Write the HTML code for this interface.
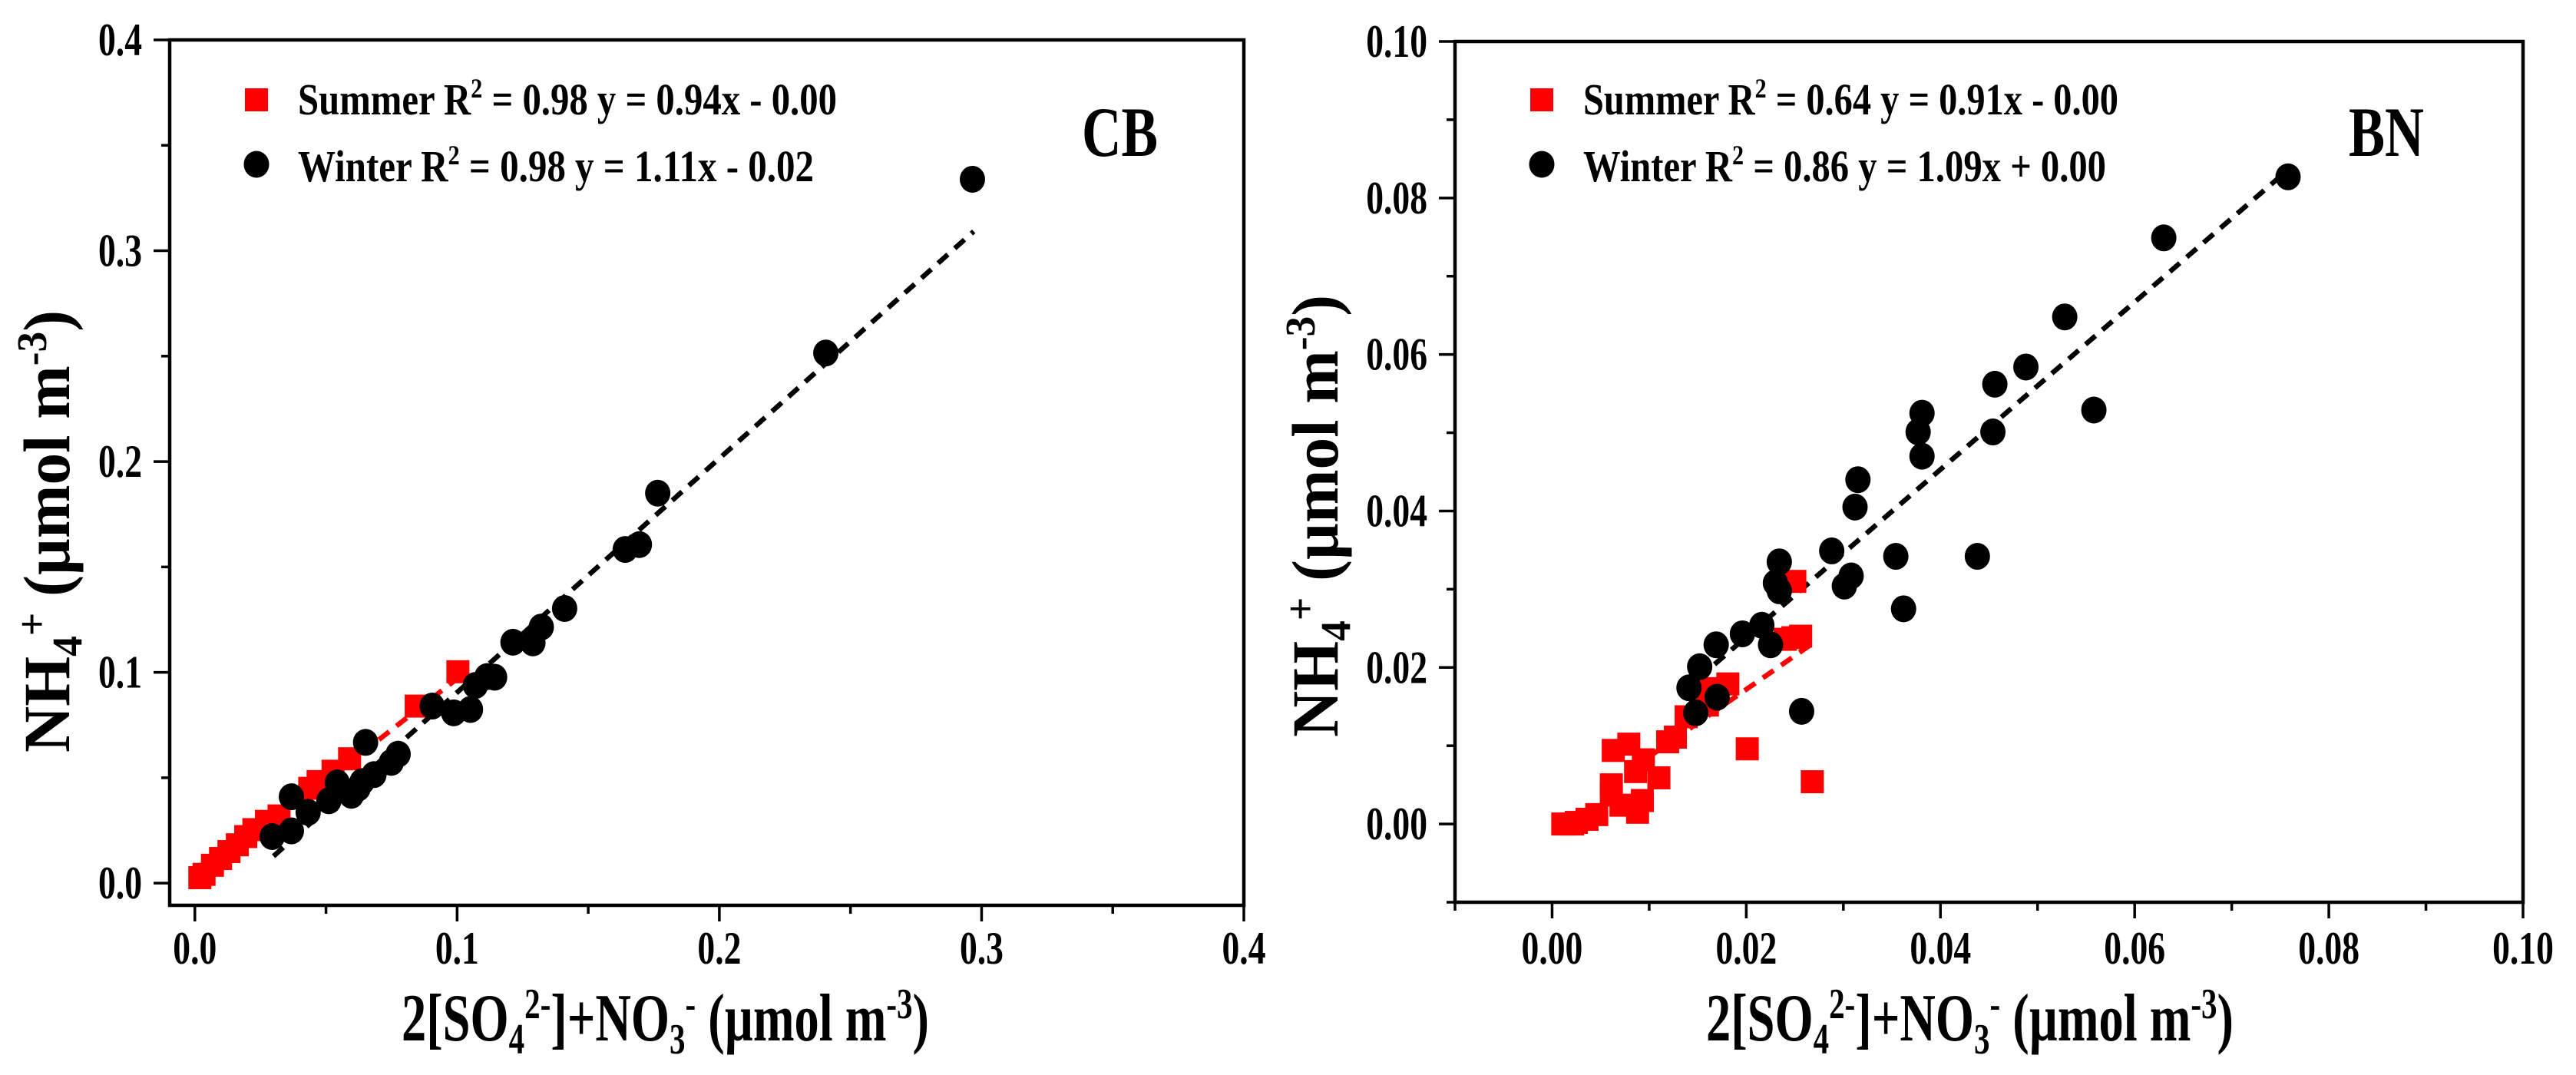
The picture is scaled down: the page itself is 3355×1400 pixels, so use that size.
<!DOCTYPE html>
<html><head><meta charset="utf-8"><style>
html,body{margin:0;padding:0;background:#fff;}
svg{display:block;font-family:"Liberation Serif",serif;font-weight:bold;}
</style></head><body>
<svg id="fig" width="3355" height="1400" viewBox="0 0 3355 1400" xmlns="http://www.w3.org/2000/svg"></svg>
<script>
// ---- CB panel data ----
const cbWinterX = [0.2965,0.2406,0.1765,0.1695,0.1641,0.1410,0.1321,0.1289,0.1213,0.1143,0.1114,0.1070,0.1051,0.0987,0.0905,0.0775,0.0749,0.0683,0.0651,0.0638,0.0597,0.0543,0.0511,0.0432,0.0368,0.0368,0.0295,0.0622];
const cbWinterY = [0.3339,0.2515,0.1850,0.1606,0.1583,0.1303,0.1215,0.1140,0.1143,0.0977,0.0980,0.0938,0.0824,0.0808,0.0840,0.0612,0.0573,0.0515,0.0668,0.0482,0.0417,0.0476,0.0391,0.0336,0.0410,0.0248,0.0221,0.0450];
const cbSummerX = [0.1003,0.0844,0.0590,0.0527,0.0470,0.0438,0.0321,0.0273,0.0225,0.0194,0.0162,0.0130,0.0098,0.0067,0.0035,0.0019];
const cbSummerY = [0.1003,0.0840,0.0590,0.0531,0.0482,0.0450,0.0319,0.0293,0.0254,0.0221,0.0182,0.0150,0.0117,0.0085,0.0042,0.0026];
const cbFitWinter = [1.11, -0.0205, 0.030, 0.297];
const cbFitSummer = [0.97, 0.0, 0.030, 0.100];
const cbTicks = [0.0,0.1,0.2,0.3,0.4];
const cbTickLabels = ["0.0","0.1","0.2","0.3","0.4"];
// ---- BN panel data ----
const bnWinterX = [0.0758,0.0630,0.0528,0.0488,0.0456,0.0454,0.0558,0.0381,0.0377,0.0381,0.0315,0.0312,0.0288,0.0308,0.0301,0.0354,0.0438,0.0362,0.0234,0.0230,0.0234,0.0216,0.0196,0.0225,0.0169,0.0152,0.0141,0.0170,0.0148,0.0257];
const bnWinterY = [0.0827,0.0749,0.0648,0.0584,0.0562,0.0501,0.0529,0.0525,0.0501,0.0470,0.0440,0.0405,0.0349,0.0317,0.0304,0.0342,0.0342,0.0275,0.0335,0.0308,0.0298,0.0254,0.0243,0.0229,0.0229,0.0201,0.0174,0.0162,0.0142,0.0144];
const bnSummerX = [0.0250,0.0248,0.0256,0.0240,0.0268,0.0201,0.0181,0.0160,0.0160,0.0138,0.0127,0.0119,0.0110,0.0094,0.0079,0.0063,0.0086,0.0061,0.0061,0.0093,0.0071,0.0088,0.0046,0.0036,0.0025,0.0011,0.0021];
const bnSummerY = [0.0310,0.0238,0.0240,0.0236,0.0054,0.0096,0.0179,0.0173,0.0152,0.0137,0.0111,0.0105,0.0059,0.0082,0.0102,0.0094,0.0067,0.0050,0.0037,0.0030,0.0024,0.0015,0.0012,0.0006,0.0002,0.0000,0.0000];
const bnFitWinter = [1.07, 0.0025, 0.015, 0.0758];
const bnFitSummer = [0.86, 0.0, 0.0104, 0.0267];
const bnTicks = [0.00,0.02,0.04,0.06,0.08,0.10];
const bnTickLabels = ["0.00","0.02","0.04","0.06","0.08","0.10"];

const NS="http://www.w3.org/2000/svg";
const svg=document.getElementById('fig');
function mk(tag,attrs,parent){const e=document.createElementNS(NS,tag);for(const k in attrs)e.setAttribute(k,attrs[k]);(parent||svg).appendChild(e);return e;}
const TF=60;
function tickLen(s){let n=0;for(const ch of s)n+=(ch==='.'?0.25:0.5);return n*TF*0.76;}

function panel(P){
  const g=mk('g',{});
  
  
  const sx=v=>P.x0+(v-P.xmin)/(P.xmax-P.xmin)*(P.x1-P.x0);
  const sy=v=>P.y1-(v-P.ymin)/(P.ymax-P.ymin)*(P.y1-P.y0);
  const fr=mk('rect',{x:P.x0,y:P.y0,width:P.x1-P.x0,height:P.y1-P.y0,fill:'none',stroke:'#000','stroke-width':4.5},g);
  
  
  for(const t of P.xMinor){const l=mk('line',{x1:sx(t),x2:sx(t),y1:P.y1,y2:P.y1+11,stroke:'#000','stroke-width':3.5},g);
    
    }
  for(const t of P.yMinor){const l=mk('line',{x1:P.x0-11,x2:P.x0,y1:sy(t),y2:sy(t),stroke:'#000','stroke-width':3.5},g);
    
    }
  P.ticks.forEach((t,i)=>{
    const l=mk('line',{x1:sx(t),x2:sx(t),y1:P.y1,y2:P.y1+21,stroke:'#000','stroke-width':3.5},g);
    
    
    const tx=mk('text',{x:sx(t),y:1255,'font-size':TF,'text-anchor':'middle',textLength:tickLen(P.labels[i]),lengthAdjust:'spacingAndGlyphs'},g);tx.textContent=P.labels[i];
    
    
  });
  P.yTicks.forEach((t,i)=>{
    const l=mk('line',{x1:P.x0-21,x2:P.x0,y1:sy(t),y2:sy(t),stroke:'#000','stroke-width':3.5},g);
    
    
    const tx=mk('text',{x:P.x0-36,y:sy(t)+20,'font-size':TF,'text-anchor':'end',textLength:tickLen(P.yLabels[i]),lengthAdjust:'spacingAndGlyphs'},g);tx.textContent=P.yLabels[i];
    
    
  });
  const fits=[[P.fitS,'#ff0000','summer'],[P.fitW,'#000','winter']];
  for(const [f,c,n] of fits){
    const l=mk('line',{x1:sx(f[2]),y1:sy(f[0]*f[2]+f[1]),x2:sx(f[3]),y2:sy(f[0]*f[3]+f[1]),stroke:c,'stroke-width':6.5,'stroke-dasharray':'17 12'},g);
    
    
  }
  P.sx.forEach((v,i)=>{
    const r=mk('rect',{x:sx(v)-15,y:sy(P.sy[i])-15,width:30,height:30,fill:'#ff0000'},g);
    
    
  });
  P.wx.forEach((v,i)=>{
    const c=mk('ellipse',{cx:sx(v),cy:sy(P.wy[i]),rx:16.5,ry:17.5,fill:'#000'},g);
    
    
  });
  const s=mk('rect',{x:P.legX-15,y:115,width:30,height:30,fill:'#ff0000'},g);
  
  
  const c=mk('ellipse',{cx:P.legX,cy:214,rx:16.5,ry:17.5,fill:'#000'},g);
  
  
  const t1=mk('text',{x:P.legTX,y:149,'font-size':58,textLength:P.legW1,lengthAdjust:'spacingAndGlyphs'},g);
  t1.innerHTML=P.leg1;
  
  
  const t2=mk('text',{x:P.legTX,y:236,'font-size':58,textLength:P.legW2,lengthAdjust:'spacingAndGlyphs'},g);
  t2.innerHTML=P.leg2;
  
  
  const site=mk('text',{x:P.siteX,y:203,'font-size':92,textLength:P.siteW,lengthAdjust:'spacingAndGlyphs'},g);
  site.textContent=P.name.toUpperCase();
  
  
  const xt=mk('text',{x:P.xtX,y:1355,'font-size':88,textLength:687,lengthAdjust:'spacingAndGlyphs'},g);
  xt.innerHTML='2[SO<tspan font-size="56" dy="17">4</tspan><tspan font-size="56" dy="-46">2-</tspan><tspan dy="29">]+NO</tspan><tspan font-size="56" dy="17">3</tspan><tspan font-size="56" dy="-46">-</tspan><tspan dy="29"> (µmol m</tspan><tspan font-size="56" dy="-29">-3</tspan><tspan dy="29">)</tspan>';
  
  
  const yt=mk('text',{x:0,y:0,'font-size':86,textLength:576,lengthAdjust:'spacingAndGlyphs','text-anchor':'middle',transform:`translate(${P.ytX},${P.ytY}) rotate(-90)`},g);
  yt.innerHTML='NH<tspan font-size="55" dy="16">4</tspan><tspan font-size="55" dy="-46">+</tspan><tspan dy="30"> (µmol m</tspan><tspan font-size="55" dy="-30">-3</tspan><tspan dy="30">)</tspan>';
  
  
}

panel({name:'cb',x0:221,x1:1620,y0:52,y1:1179,xmin:-0.0096,xmax:0.4,ymin:-0.0105,ymax:0.4,
  ticks:cbTicks,labels:cbTickLabels,yTicks:cbTicks,yLabels:cbTickLabels,
  xMinor:[0.05,0.15,0.25,0.35],yMinor:[0.05,0.15,0.25,0.35],
  sx:cbSummerX,sy:cbSummerY,wx:cbWinterX,wy:cbWinterY,fitS:cbFitSummer,fitW:cbFitWinter,
  legX:334,legTX:388,legW1:702,legW2:672,
  leg1:'Summer R<tspan font-size="36" dy="-22">2</tspan><tspan dy="22"> = 0.98 y = 0.94x - 0.00</tspan>',
  leg2:'Winter R<tspan font-size="36" dy="-22">2</tspan><tspan dy="22"> = 0.98 y = 1.11x - 0.02</tspan>',
  siteX:1409,siteW:99,xtX:523,ytX:90,ytY:692});
panel({name:'bn',x0:1895,x1:3286,y0:54,y1:1175,xmin:-0.01,xmax:0.10,ymin:-0.01,ymax:0.10,
  ticks:bnTicks,labels:bnTickLabels,yTicks:bnTicks,yLabels:bnTickLabels,
  xMinor:[-0.01,0.01,0.03,0.05,0.07,0.09],yMinor:[-0.01,0.01,0.03,0.05,0.07,0.09],
  sx:bnSummerX,sy:bnSummerY,wx:bnWinterX,wy:bnWinterY,fitS:bnFitSummer,fitW:bnFitWinter,
  legX:2008,legTX:2062,legW1:697,legW2:681,
  leg1:'Summer R<tspan font-size="36" dy="-22">2</tspan><tspan dy="22"> = 0.64 y = 0.91x - 0.00</tspan>',
  leg2:'Winter R<tspan font-size="36" dy="-22">2</tspan><tspan dy="22"> = 0.86 y = 1.09x + 0.00</tspan>',
  siteX:3059,siteW:98,xtX:2222,ytX:1742,ytY:672});
</script>
</body></html>
